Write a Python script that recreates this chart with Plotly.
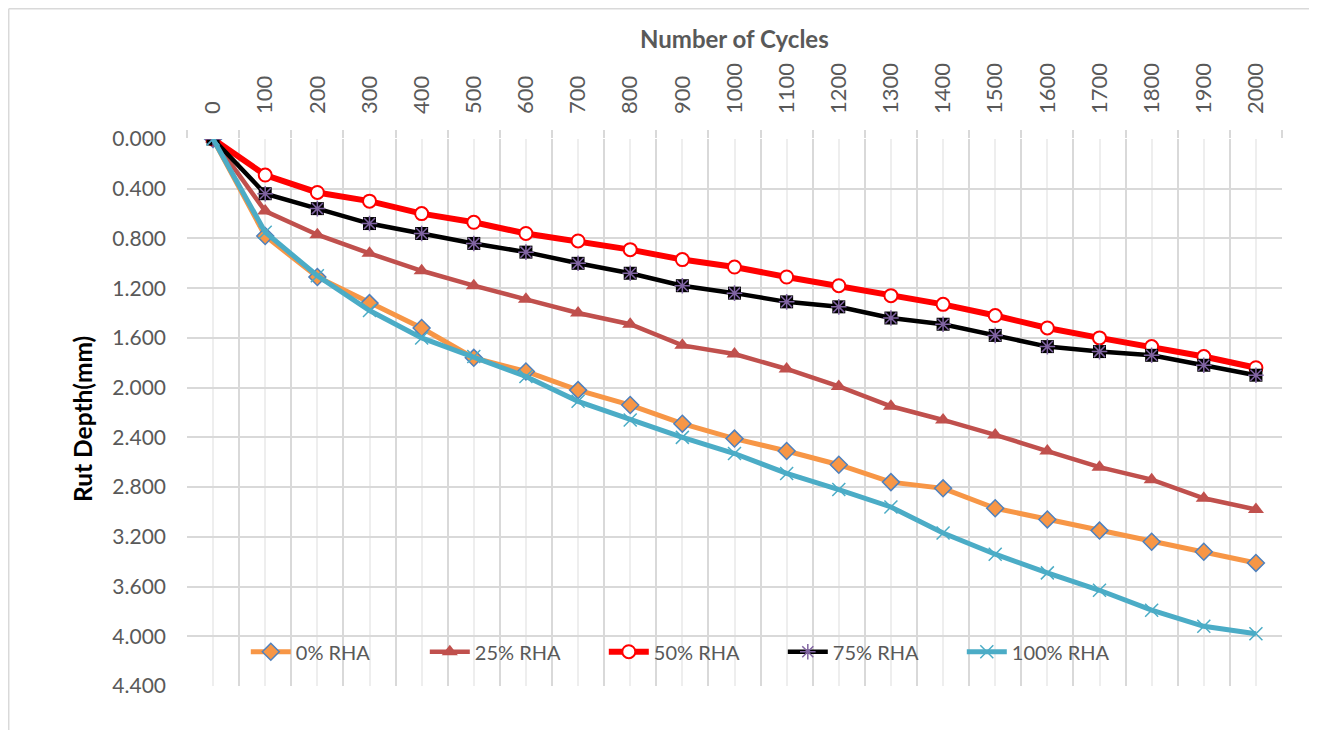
import plotly.graph_objects as go

# Rut depth (mm) against number of load cycles
cycles = [0, 100, 200, 300, 400, 500, 600, 700, 800, 900, 1000,
          1100, 1200, 1300, 1400, 1500, 1600, 1700, 1800, 1900, 2000]
cycle_labels = [str(c) for c in cycles]

rha_0 = [0, 0.78, 1.11, 1.32, 1.52, 1.76, 1.87, 2.02, 2.14, 2.29, 2.41,
         2.51, 2.62, 2.76, 2.81, 2.97, 3.06, 3.15, 3.24, 3.32, 3.41]
rha_25 = [0, 0.58, 0.77, 0.92, 1.06, 1.18, 1.29, 1.40, 1.49, 1.66, 1.73,
          1.85, 1.99, 2.15, 2.26, 2.38, 2.51, 2.64, 2.74, 2.89, 2.98]
rha_50 = [0, 0.29, 0.43, 0.50, 0.60, 0.67, 0.76, 0.82, 0.89, 0.97, 1.03,
          1.11, 1.18, 1.26, 1.33, 1.42, 1.52, 1.60, 1.67, 1.75, 1.84]
rha_75 = [0, 0.44, 0.56, 0.68, 0.76, 0.84, 0.91, 1.00, 1.08, 1.18, 1.24,
          1.31, 1.35, 1.44, 1.49, 1.58, 1.67, 1.71, 1.74, 1.82, 1.90]
rha_100 = [0, 0.75, 1.10, 1.38, 1.60, 1.75, 1.91, 2.11, 2.26, 2.40, 2.53,
           2.69, 2.82, 2.96, 3.17, 3.34, 3.49, 3.63, 3.79, 3.92, 3.98]

y_ticks = [0.0, 0.4, 0.8, 1.2, 1.6, 2.0, 2.4, 2.8, 3.2, 3.6, 4.0, 4.4]

FONT = "Lato"
GREY = "#595959"

fig = go.Figure()

fig.add_trace(go.Scatter(
    x=cycles, y=rha_0, name="0% RHA", mode="lines+markers",
    line=dict(color="#F79646", width=5),
    marker=dict(symbol="diamond", size=13, color="#F79646",
                line=dict(color="#4F81BD", width=1.5)),
))
fig.add_trace(go.Scatter(
    x=cycles, y=rha_25, name="25% RHA", mode="lines+markers",
    line=dict(color="#C0504D", width=4.5),
    marker=dict(symbol="triangle-up", size=14, color="#C0504D"),
))
fig.add_trace(go.Scatter(
    x=cycles, y=rha_50, name="50% RHA", mode="lines+markers",
    line=dict(color="#FF0000", width=6),
    marker=dict(symbol="circle", size=13, color="white",
                line=dict(color="#FF0000", width=2)),
))
# black squares behind the purple asterisks of the 75% series
fig.add_trace(go.Scatter(
    x=cycles, y=rha_75, name="75% RHA", mode="markers", showlegend=False,
    marker=dict(symbol="square", size=13, color="black"),
    hoverinfo="skip",
))
fig.add_trace(go.Scatter(
    x=cycles, y=rha_75, name="75% RHA", mode="lines+markers",
    line=dict(color="black", width=4.5),
    marker=dict(symbol="asterisk-open", size=13, color="#8064A2",
                line=dict(color="#8064A2", width=1.5)),
))
fig.add_trace(go.Scatter(
    x=cycles, y=rha_100, name="100% RHA", mode="lines+markers",
    line=dict(color="#4BACC6", width=5),
    marker=dict(symbol="x-thin-open", size=13, color="#4BACC6",
                line=dict(color="#4BACC6", width=1.5)),
))

fig.update_xaxes(
    side="top",
    automargin=False,
    range=[-50, 2050],
    tickvals=cycles,
    ticktext=cycle_labels,
    tickangle=-90,
    tickfont=dict(family=FONT, size=22, color=GREY),
    ticklabelstandoff=24,
    ticks="",
    showgrid=True, gridcolor="#EEEEEE", gridwidth=1.5,
    zeroline=False,
    minor=dict(tickvals=[c - 50 for c in cycles] + [2050],
               showgrid=True, gridcolor="#D9D9D9", gridwidth=1.5,
               ticks="outside", ticklen=8, tickcolor="#D9D9D9", tickwidth=1.5),
)
fig.update_yaxes(
    automargin=False,
    range=[4.4, 0],
    tickvals=y_ticks,
    tickformat=".3f",
    tickfont=dict(family=FONT, size=21, color=GREY),
    ticklabelstandoff=20,
    showgrid=True, gridcolor="#D9D9D9", gridwidth=1.5,
    zeroline=False,
)

# the page adds an 8px body margin, so the figure is 8px smaller than the window
fig.update_layout(
    width=1309, height=722,
    margin=dict(l=179, r=35, t=131, b=44),
    paper_bgcolor="white", plot_bgcolor="white",
    font=dict(family=FONT, color=GREY),
    showlegend=True,
    legend=dict(
        orientation="h",
        x=0.0537, xanchor="left",
        y=0.027, yanchor="bottom",
        bgcolor="rgba(0,0,0,0)",
        font=dict(family=FONT, size=20, color=GREY),
        entrywidth=124, entrywidthmode="pixels",
        itemwidth=40,
    ),
    annotations=[
        dict(text="<b>Number of Cycles</b>", xref="paper", yref="paper",
             x=0.5, y=1.1846, xanchor="center", yanchor="middle",
             showarrow=False, font=dict(family=FONT, size=24, color=GREY)),
        dict(text="<b>Rut Depth(mm)</b>", xref="paper", yref="paper",
             x=-0.0959, y=0.488, xanchor="center", yanchor="middle",
             textangle=-90, showarrow=False,
             font=dict(family=FONT, size=24.5, color="black")),
    ],
    shapes=[
        # outer chart border, only its top and left edges are in view
        dict(type="line", xref="paper", yref="paper",
             x0=-0.1628, x1=1.2, y0=1.2381, y1=1.2381,
             line=dict(color="#D9D9D9", width=1.5), layer="below"),
        dict(type="line", xref="paper", yref="paper",
             x0=-0.1628, x1=-0.1628, y0=-0.2, y1=1.2381,
             line=dict(color="#D9D9D9", width=1.5), layer="below"),
        # white legend box hiding the gridlines behind it
        dict(type="rect", xref="paper", yref="paper",
             x0=0.0174, x1=0.8575, y0=0.0274, y1=0.102,
             line=dict(width=0), fillcolor="white", layer="between"),
    ],
)

fig.write_html("out.html")
